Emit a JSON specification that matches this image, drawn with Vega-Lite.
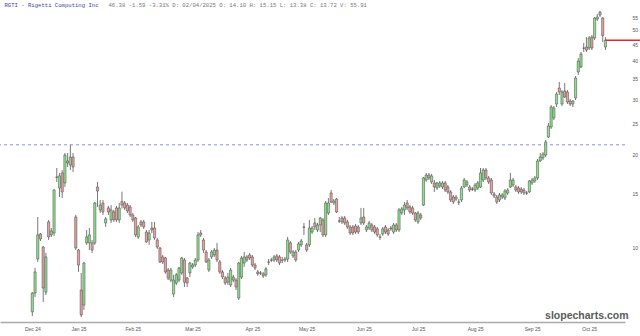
{
"$schema": "https://vega.github.io/schema/vega-lite/v6.json",
"width": 625,
"height": 314,
"autosize": {"type": "none"},
"padding": {"left": 0, "top": 8, "right": 15, "bottom": 14},
"background": "white",
"config": {"view": {"stroke": null}},
"resolve": {"axis": {"x": "independent"}},
"datasets": {
"levels": [{"name": "Dec high", "price": 21.42}],
"candles": [
{"t":0,"date":"2024-12-13","o":6.24,"h":7.22,"l":6.05,"c":7.17},
{"t":1,"date":"2024-12-16","o":7.17,"h":8.63,"l":6.96,"c":8.38},
{"t":2,"date":"2024-12-17","o":9.22,"h":12.57,"l":9.02,"c":11.01},
{"t":3,"date":"2024-12-18","o":11.09,"h":11.17,"l":10.53,"c":10.69},
{"t":4,"date":"2024-12-19","o":10.07,"h":10.15,"l":6.71,"c":7.44},
{"t":5,"date":"2024-12-20","o":7.22,"h":9.64,"l":7.06,"c":9.36},
{"t":6,"date":"2024-12-23","o":12.12,"h":12.30,"l":10.61,"c":10.85},
{"t":7,"date":"2024-12-24","o":11.01,"h":11.59,"l":10.85,"c":11.34},
{"t":8,"date":"2024-12-26","o":11.17,"h":15.45,"l":10.93,"c":15.34},
{"t":9,"date":"2024-12-27","o":16.89,"h":18.05,"l":16.28,"c":16.85},
{"t":10,"date":"2024-12-30","o":15.57,"h":17.40,"l":14.57,"c":17.02},
{"t":11,"date":"2024-12-31","o":17.40,"h":17.78,"l":14.46,"c":15.12},
{"t":12,"date":"2025-01-02","o":16.16,"h":20.16,"l":15.69,"c":19.86},
{"t":13,"date":"2025-01-03","o":19.01,"h":20.16,"l":18.18,"c":18.73},
{"t":14,"date":"2025-01-06","o":18.45,"h":21.42,"l":17.78,"c":19.57},
{"t":15,"date":"2025-01-07","o":19.57,"h":20.16,"l":17.53,"c":18.18},
{"t":16,"date":"2025-01-08","o":12.57,"h":12.76,"l":9.85,"c":10.00},
{"t":17,"date":"2025-01-10","o":9.85,"h":9.93,"l":8.38,"c":8.82},
{"t":18,"date":"2025-01-13","o":7.33,"h":8.32,"l":6.00,"c":6.10},
{"t":19,"date":"2025-01-14","o":6.56,"h":9.02,"l":6.33,"c":8.95},
{"t":20,"date":"2025-01-15","o":10.38,"h":11.42,"l":10.23,"c":10.85},
{"t":21,"date":"2025-01-16","o":10.38,"h":11.59,"l":9.85,"c":11.01},
{"t":22,"date":"2025-01-17","o":10.38,"h":10.61,"l":9.64,"c":9.85},
{"t":23,"date":"2025-01-21","o":10.38,"h":14.04,"l":10.23,"c":13.94},
{"t":24,"date":"2025-01-22","o":15.69,"h":16.28,"l":13.54,"c":15.23},
{"t":25,"date":"2025-01-23","o":13.24,"h":14.25,"l":12.95,"c":13.73},
{"t":26,"date":"2025-01-24","o":13.94,"h":14.25,"l":12.76,"c":13.05},
{"t":27,"date":"2025-01-27","o":12.03,"h":12.57,"l":11.68,"c":12.39},
{"t":28,"date":"2025-01-28","o":13.44,"h":13.64,"l":12.76,"c":13.05},
{"t":29,"date":"2025-01-29","o":12.30,"h":13.73,"l":12.03,"c":13.24},
{"t":30,"date":"2025-01-30","o":13.05,"h":13.24,"l":12.12,"c":12.30},
{"t":31,"date":"2025-01-31","o":13.44,"h":13.64,"l":12.12,"c":12.30},
{"t":32,"date":"2025-02-03","o":12.30,"h":13.94,"l":12.03,"c":13.44},
{"t":33,"date":"2025-02-04","o":14.10,"h":15.15,"l":13.38,"c":13.72},
{"t":34,"date":"2025-02-05","o":13.94,"h":14.14,"l":13.24,"c":13.44},
{"t":35,"date":"2025-02-06","o":13.73,"h":13.94,"l":12.95,"c":13.15},
{"t":36,"date":"2025-02-07","o":13.54,"h":13.73,"l":12.57,"c":12.76},
{"t":37,"date":"2025-02-10","o":12.76,"h":12.95,"l":12.12,"c":12.30},
{"t":38,"date":"2025-02-11","o":12.48,"h":12.57,"l":10.85,"c":11.01},
{"t":39,"date":"2025-02-12","o":10.85,"h":11.85,"l":10.69,"c":11.68},
{"t":40,"date":"2025-02-13","o":12.12,"h":12.30,"l":11.68,"c":11.85},
{"t":41,"date":"2025-02-14","o":12.12,"h":12.30,"l":11.51,"c":11.68},
{"t":42,"date":"2025-02-18","o":11.25,"h":11.42,"l":10.38,"c":10.46},
{"t":43,"date":"2025-02-19","o":10.61,"h":11.42,"l":10.23,"c":11.17},
{"t":44,"date":"2025-02-20","o":11.59,"h":12.12,"l":11.17,"c":11.42},
{"t":45,"date":"2025-02-21","o":11.59,"h":12.12,"l":10.61,"c":10.77},
{"t":46,"date":"2025-02-24","o":10.61,"h":10.77,"l":9.93,"c":10.07},
{"t":47,"date":"2025-02-25","o":10.00,"h":10.07,"l":8.95,"c":9.02},
{"t":48,"date":"2025-02-26","o":9.36,"h":9.50,"l":8.88,"c":9.02},
{"t":49,"date":"2025-02-27","o":9.29,"h":9.36,"l":8.26,"c":8.38},
{"t":50,"date":"2025-02-28","o":8.50,"h":8.63,"l":7.89,"c":8.01},
{"t":51,"date":"2025-03-03","o":7.89,"h":8.63,"l":7.77,"c":8.50},
{"t":52,"date":"2025-03-04","o":7.12,"h":8.20,"l":6.96,"c":7.89},
{"t":53,"date":"2025-03-05","o":7.72,"h":8.32,"l":7.61,"c":8.20},
{"t":54,"date":"2025-03-06","o":7.89,"h":8.69,"l":7.77,"c":8.63},
{"t":55,"date":"2025-03-07","o":8.32,"h":9.36,"l":8.20,"c":9.29},
{"t":56,"date":"2025-03-10","o":9.15,"h":9.29,"l":7.50,"c":7.77},
{"t":57,"date":"2025-03-11","o":8.01,"h":8.07,"l":7.50,"c":7.72},
{"t":58,"date":"2025-03-12","o":8.32,"h":9.02,"l":8.07,"c":8.95},
{"t":59,"date":"2025-03-13","o":8.69,"h":8.95,"l":8.57,"c":8.82},
{"t":60,"date":"2025-03-14","o":8.82,"h":9.29,"l":8.69,"c":9.15},
{"t":61,"date":"2025-03-17","o":9.15,"h":11.25,"l":9.02,"c":11.01},
{"t":62,"date":"2025-03-18","o":11.17,"h":11.42,"l":10.85,"c":11.01},
{"t":63,"date":"2025-03-19","o":10.61,"h":10.77,"l":9.64,"c":9.85},
{"t":64,"date":"2025-03-20","o":9.71,"h":9.85,"l":8.95,"c":9.02},
{"t":65,"date":"2025-03-21","o":8.50,"h":9.29,"l":8.38,"c":9.15},
{"t":66,"date":"2025-03-24","o":9.36,"h":9.85,"l":9.22,"c":9.71},
{"t":67,"date":"2025-03-25","o":9.50,"h":10.00,"l":9.36,"c":9.85},
{"t":68,"date":"2025-03-26","o":9.85,"h":10.38,"l":9.02,"c":9.15},
{"t":69,"date":"2025-03-27","o":9.02,"h":9.15,"l":8.26,"c":8.38},
{"t":70,"date":"2025-03-28","o":8.38,"h":8.50,"l":7.95,"c":8.07},
{"t":71,"date":"2025-03-31","o":8.01,"h":8.14,"l":7.61,"c":7.72},
{"t":72,"date":"2025-04-01","o":7.77,"h":8.32,"l":7.61,"c":8.07},
{"t":73,"date":"2025-04-02","o":7.61,"h":8.63,"l":7.50,"c":8.50},
{"t":74,"date":"2025-04-03","o":8.07,"h":8.20,"l":7.77,"c":7.89},
{"t":75,"date":"2025-04-04","o":7.89,"h":8.01,"l":7.33,"c":7.50},
{"t":76,"date":"2025-04-07","o":6.91,"h":9.02,"l":6.81,"c":8.95},
{"t":77,"date":"2025-04-08","o":8.07,"h":9.43,"l":7.95,"c":9.29},
{"t":78,"date":"2025-04-09","o":8.95,"h":9.71,"l":8.69,"c":9.36},
{"t":79,"date":"2025-04-10","o":9.36,"h":9.50,"l":9.02,"c":9.15},
{"t":80,"date":"2025-04-11","o":9.50,"h":9.64,"l":9.15,"c":9.29},
{"t":81,"date":"2025-04-14","o":9.36,"h":9.50,"l":8.69,"c":8.82},
{"t":82,"date":"2025-04-15","o":8.82,"h":8.95,"l":8.50,"c":8.63},
{"t":83,"date":"2025-04-16","o":8.38,"h":8.50,"l":8.14,"c":8.26},
{"t":84,"date":"2025-04-17","o":8.32,"h":8.44,"l":8.20,"c":8.30},
{"t":85,"date":"2025-04-21","o":8.26,"h":8.38,"l":8.01,"c":8.14},
{"t":86,"date":"2025-04-22","o":8.20,"h":8.69,"l":8.07,"c":8.57},
{"t":87,"date":"2025-04-23","o":9.02,"h":9.22,"l":8.82,"c":9.00},
{"t":88,"date":"2025-04-24","o":9.15,"h":9.29,"l":9.02,"c":9.13},
{"t":89,"date":"2025-04-25","o":9.15,"h":9.50,"l":9.02,"c":9.36},
{"t":90,"date":"2025-04-28","o":9.43,"h":9.57,"l":9.02,"c":9.15},
{"t":91,"date":"2025-04-29","o":9.36,"h":9.50,"l":8.82,"c":8.95},
{"t":92,"date":"2025-04-30","o":9.15,"h":9.36,"l":8.95,"c":9.13},
{"t":93,"date":"2025-05-01","o":9.22,"h":9.36,"l":9.02,"c":9.15},
{"t":94,"date":"2025-05-02","o":9.22,"h":10.85,"l":9.02,"c":10.61},
{"t":95,"date":"2025-05-05","o":10.38,"h":10.53,"l":9.57,"c":9.71},
{"t":96,"date":"2025-05-06","o":9.43,"h":9.85,"l":9.29,"c":9.71},
{"t":97,"date":"2025-05-07","o":9.71,"h":9.85,"l":9.02,"c":9.15},
{"t":98,"date":"2025-05-08","o":9.85,"h":10.46,"l":9.71,"c":10.30},
{"t":99,"date":"2025-05-09","o":10.23,"h":10.69,"l":10.07,"c":10.53},
{"t":100,"date":"2025-05-12","o":11.68,"h":12.03,"l":11.01,"c":11.65},
{"t":101,"date":"2025-05-13","o":10.23,"h":10.38,"l":9.71,"c":9.85},
{"t":102,"date":"2025-05-14","o":10.23,"h":12.30,"l":10.07,"c":11.59},
{"t":103,"date":"2025-05-15","o":11.25,"h":11.76,"l":11.09,"c":11.59},
{"t":104,"date":"2025-05-16","o":12.03,"h":12.48,"l":11.42,"c":11.68},
{"t":105,"date":"2025-05-19","o":11.42,"h":12.03,"l":11.25,"c":11.85},
{"t":106,"date":"2025-05-20","o":11.85,"h":12.57,"l":11.25,"c":12.48},
{"t":107,"date":"2025-05-21","o":12.30,"h":12.48,"l":10.85,"c":11.01},
{"t":108,"date":"2025-05-22","o":11.01,"h":14.14,"l":10.85,"c":13.94},
{"t":109,"date":"2025-05-23","o":12.95,"h":14.46,"l":12.76,"c":13.94},
{"t":110,"date":"2025-05-27","o":15.01,"h":15.34,"l":13.94,"c":14.04},
{"t":111,"date":"2025-05-28","o":13.94,"h":14.35,"l":13.73,"c":14.14},
{"t":112,"date":"2025-05-29","o":14.35,"h":14.46,"l":12.95,"c":13.05},
{"t":113,"date":"2025-05-30","o":12.21,"h":12.57,"l":12.03,"c":12.19},
{"t":114,"date":"2025-06-02","o":12.48,"h":12.67,"l":11.94,"c":12.12},
{"t":115,"date":"2025-06-03","o":12.48,"h":12.67,"l":11.85,"c":12.03},
{"t":116,"date":"2025-06-04","o":12.12,"h":12.30,"l":11.51,"c":11.68},
{"t":117,"date":"2025-06-05","o":11.68,"h":11.85,"l":11.01,"c":11.17},
{"t":118,"date":"2025-06-06","o":11.68,"h":11.85,"l":11.01,"c":11.17},
{"t":119,"date":"2025-06-09","o":11.76,"h":11.94,"l":11.09,"c":11.25},
{"t":120,"date":"2025-06-10","o":11.68,"h":11.85,"l":11.09,"c":11.25},
{"t":121,"date":"2025-06-11","o":12.03,"h":13.44,"l":11.85,"c":12.48},
{"t":122,"date":"2025-06-12","o":12.57,"h":13.44,"l":11.85,"c":12.03},
{"t":123,"date":"2025-06-13","o":11.42,"h":11.85,"l":11.25,"c":11.68},
{"t":124,"date":"2025-06-16","o":11.59,"h":12.21,"l":11.42,"c":12.03},
{"t":125,"date":"2025-06-17","o":11.85,"h":12.03,"l":11.25,"c":11.42},
{"t":126,"date":"2025-06-18","o":11.68,"h":11.85,"l":11.09,"c":11.25},
{"t":127,"date":"2025-06-20","o":11.51,"h":11.68,"l":10.85,"c":11.01},
{"t":128,"date":"2025-06-23","o":10.85,"h":11.09,"l":10.61,"c":10.83},
{"t":129,"date":"2025-06-24","o":11.09,"h":11.68,"l":10.93,"c":11.51},
{"t":130,"date":"2025-06-25","o":11.68,"h":11.85,"l":11.09,"c":11.25},
{"t":131,"date":"2025-06-26","o":11.42,"h":11.59,"l":10.93,"c":11.09},
{"t":132,"date":"2025-06-27","o":11.59,"h":11.76,"l":11.34,"c":11.51},
{"t":133,"date":"2025-06-30","o":11.25,"h":12.03,"l":11.09,"c":11.85},
{"t":134,"date":"2025-07-01","o":11.85,"h":12.03,"l":11.25,"c":11.42},
{"t":135,"date":"2025-07-02","o":11.42,"h":13.44,"l":11.25,"c":13.24},
{"t":136,"date":"2025-07-03","o":12.95,"h":13.54,"l":12.76,"c":13.34},
{"t":137,"date":"2025-07-07","o":13.24,"h":14.04,"l":12.76,"c":13.73},
{"t":138,"date":"2025-07-08","o":13.94,"h":14.25,"l":13.24,"c":13.44},
{"t":139,"date":"2025-07-09","o":13.54,"h":13.73,"l":12.86,"c":13.05},
{"t":140,"date":"2025-07-10","o":13.44,"h":13.64,"l":12.76,"c":12.95},
{"t":141,"date":"2025-07-11","o":12.95,"h":13.05,"l":12.12,"c":12.30},
{"t":142,"date":"2025-07-14","o":12.12,"h":13.15,"l":11.94,"c":12.95},
{"t":143,"date":"2025-07-15","o":12.76,"h":12.95,"l":12.30,"c":12.48},
{"t":144,"date":"2025-07-16","o":13.73,"h":16.89,"l":13.64,"c":16.77},
{"t":145,"date":"2025-07-17","o":16.52,"h":17.40,"l":16.28,"c":17.14},
{"t":146,"date":"2025-07-18","o":17.14,"h":17.40,"l":16.52,"c":16.77},
{"t":147,"date":"2025-07-21","o":16.28,"h":17.27,"l":16.04,"c":17.02},
{"t":148,"date":"2025-07-22","o":16.16,"h":16.52,"l":15.12,"c":15.69},
{"t":149,"date":"2025-07-23","o":15.57,"h":16.28,"l":15.34,"c":16.16},
{"t":150,"date":"2025-07-24","o":15.80,"h":16.40,"l":15.57,"c":16.16},
{"t":151,"date":"2025-07-25","o":15.69,"h":16.40,"l":15.45,"c":16.16},
{"t":152,"date":"2025-07-28","o":16.16,"h":16.40,"l":15.12,"c":15.34},
{"t":153,"date":"2025-07-29","o":15.69,"h":15.92,"l":14.90,"c":15.12},
{"t":154,"date":"2025-07-30","o":15.12,"h":15.34,"l":14.04,"c":14.25},
{"t":155,"date":"2025-07-31","o":14.57,"h":14.79,"l":13.84,"c":14.04},
{"t":156,"date":"2025-08-01","o":14.35,"h":14.79,"l":14.14,"c":14.57},
{"t":157,"date":"2025-08-04","o":14.04,"h":14.35,"l":13.73,"c":14.02},
{"t":158,"date":"2025-08-05","o":14.25,"h":15.80,"l":14.04,"c":15.57},
{"t":159,"date":"2025-08-06","o":15.69,"h":16.77,"l":15.57,"c":16.52},
{"t":160,"date":"2025-08-07","o":15.92,"h":16.52,"l":15.69,"c":16.28},
{"t":161,"date":"2025-08-08","o":15.69,"h":15.92,"l":15.12,"c":15.34},
{"t":162,"date":"2025-08-11","o":15.45,"h":15.69,"l":15.23,"c":15.43},
{"t":163,"date":"2025-08-12","o":15.34,"h":16.16,"l":15.12,"c":15.92},
{"t":164,"date":"2025-08-13","o":15.57,"h":16.40,"l":15.34,"c":16.16},
{"t":165,"date":"2025-08-14","o":15.69,"h":18.05,"l":15.57,"c":17.40},
{"t":166,"date":"2025-08-15","o":16.52,"h":18.05,"l":16.28,"c":17.78},
{"t":167,"date":"2025-08-18","o":17.78,"h":18.05,"l":16.52,"c":16.77},
{"t":168,"date":"2025-08-19","o":16.77,"h":17.02,"l":16.04,"c":16.28},
{"t":169,"date":"2025-08-20","o":16.52,"h":16.77,"l":14.79,"c":15.01},
{"t":170,"date":"2025-08-21","o":14.90,"h":15.12,"l":14.46,"c":14.68},
{"t":171,"date":"2025-08-22","o":14.57,"h":14.79,"l":13.84,"c":14.04},
{"t":172,"date":"2025-08-25","o":14.25,"h":15.01,"l":14.04,"c":14.79},
{"t":173,"date":"2025-08-26","o":14.57,"h":15.01,"l":14.35,"c":14.79},
{"t":174,"date":"2025-08-27","o":14.46,"h":15.45,"l":14.25,"c":15.23},
{"t":175,"date":"2025-08-28","o":15.01,"h":15.57,"l":14.79,"c":15.34},
{"t":176,"date":"2025-08-29","o":15.69,"h":17.40,"l":15.57,"c":16.52},
{"t":177,"date":"2025-09-02","o":15.92,"h":16.77,"l":15.69,"c":16.52},
{"t":178,"date":"2025-09-03","o":15.69,"h":15.92,"l":15.12,"c":15.34},
{"t":179,"date":"2025-09-04","o":15.57,"h":15.80,"l":14.90,"c":15.12},
{"t":180,"date":"2025-09-05","o":15.45,"h":15.69,"l":14.90,"c":15.12},
{"t":181,"date":"2025-09-08","o":15.34,"h":15.57,"l":14.79,"c":15.01},
{"t":182,"date":"2025-09-09","o":15.01,"h":15.23,"l":14.79,"c":14.99},
{"t":183,"date":"2025-09-10","o":15.12,"h":16.52,"l":15.01,"c":16.40},
{"t":184,"date":"2025-09-11","o":16.16,"h":16.77,"l":15.92,"c":16.52},
{"t":185,"date":"2025-09-12","o":16.40,"h":17.02,"l":16.16,"c":16.77},
{"t":186,"date":"2025-09-15","o":16.77,"h":19.29,"l":16.52,"c":19.01},
{"t":187,"date":"2025-09-16","o":19.01,"h":20.16,"l":18.87,"c":19.57},
{"t":188,"date":"2025-09-17","o":19.43,"h":20.31,"l":19.15,"c":20.01},
{"t":189,"date":"2025-09-18","o":19.86,"h":22.19,"l":19.57,"c":21.87},
{"t":190,"date":"2025-09-19","o":22.69,"h":25.16,"l":22.52,"c":24.61},
{"t":191,"date":"2025-09-22","o":24.43,"h":28.73,"l":24.07,"c":28.31},
{"t":192,"date":"2025-09-23","o":26.10,"h":28.52,"l":25.72,"c":28.10},
{"t":193,"date":"2025-09-24","o":28.94,"h":31.63,"l":28.31,"c":31.16},
{"t":194,"date":"2025-09-25","o":32.57,"h":34.05,"l":30.93,"c":31.63},
{"t":195,"date":"2025-09-26","o":28.94,"h":32.09,"l":28.52,"c":31.63},
{"t":196,"date":"2025-09-29","o":31.86,"h":33.80,"l":30.26,"c":30.48},
{"t":197,"date":"2025-09-30","o":31.63,"h":32.09,"l":28.94,"c":29.38},
{"t":198,"date":"2025-10-01","o":29.59,"h":30.04,"l":28.52,"c":28.94},
{"t":199,"date":"2025-10-02","o":28.94,"h":29.81,"l":28.31,"c":29.59},
{"t":200,"date":"2025-10-03","o":30.26,"h":35.59,"l":29.81,"c":35.07},
{"t":201,"date":"2025-10-06","o":36.66,"h":40.64,"l":35.85,"c":39.75},
{"t":202,"date":"2025-10-07","o":38.04,"h":42.49,"l":37.76,"c":41.86},
{"t":203,"date":"2025-10-08","o":43.76,"h":45.40,"l":42.49,"c":43.70},
{"t":204,"date":"2025-10-09","o":44.08,"h":47.46,"l":42.49,"c":43.11},
{"t":205,"date":"2025-10-10","o":43.76,"h":47.81,"l":43.11,"c":47.11},
{"t":206,"date":"2025-10-13","o":47.46,"h":48.16,"l":43.11,"c":43.76},
{"t":207,"date":"2025-10-14","o":47.11,"h":55.00,"l":46.41,"c":54.60},
{"t":208,"date":"2025-10-15","o":54.20,"h":56.23,"l":53.41,"c":55.00},
{"t":209,"date":"2025-10-16","o":57.07,"h":57.49,"l":55.00,"c":55.82},
{"t":210,"date":"2025-10-17","o":54.60,"h":55.00,"l":45.74,"c":47.97},
{"t":211,"date":"2025-10-20","o":44.08,"h":47.46,"l":43.11,"c":46.38}
]
},
"data": {"name": "candles"},
"layer": [
{
  "data": {"name": "levels"},
  "mark": {"type": "rule", "color": "#8f8fe0", "strokeDash": [3, 3], "strokeWidth": 1},
  "encoding": {"y": {"field": "price", "type": "quantitative"}}
},
{
  "mark": {"type": "rule", "color": "#555555", "strokeWidth": 0.8},
  "encoding": {
    "x": {
      "field": "t", "type": "quantitative",
      "scale": {"domain": [-11.9, 218.2], "nice": false, "zero": false, "padding": 0},
      "axis": {
        "orient": "bottom",
        "values": [0, 17, 37, 59, 81, 101, 122, 142, 163, 184, 205],
        "labelExpr": "['Dec 24','Jan 25','Feb 25','Mar 25','Apr 25','May 25','Jun 25','Jul 25','Aug 25','Sep 25','Oct 25'][indexof([0,17,37,59,81,101,122,142,163,184,205], datum.value)]",
        "labelFlush": false,
        "labelOverlap": false,
        "labelFont": "Liberation Sans",
        "labelFontSize": 5,
        "labelColor": "#555555",
        "labelPadding": 4,
        "ticks": false,
        "grid": false,
        "domainColor": "#aaaaaa",
        "domainWidth": 1.5,
        "title": "slopecharts.com",
        "titleAnchor": "end",
        "titleAlign": "right",
        "titleX": 628,
        "titleY": -4,
        "titleBaseline": "alphabetic",
        "titleFont": "Liberation Sans",
        "titleFontSize": 10.5,
        "titleFontWeight": "bold",
        "titleColor": "#5a5a5a"
      }
    },
    "y": {
      "field": "l", "type": "quantitative",
      "scale": {"type": "log", "domain": [5.79, 58.8], "nice": false},
      "axis": {
        "orient": "right",
        "values": [10, 15, 20, 25, 30, 35, 40, 45, 50, 55],
        "format": "d",
        "ticks": false,
        "domain": false,
        "grid": false,
        "labelFont": "Liberation Sans",
        "labelFontSize": 5,
        "labelColor": "#555555",
        "labelPadding": 7,
        "title": null
      }
    },
    "y2": {"field": "h"}
  }
},
{
  "mark": {"type": "bar", "size": 2.2, "stroke": "#444444", "strokeWidth": 0.5},
  "encoding": {
    "x": {
      "field": "t", "type": "quantitative",
      "axis": {
        "orient": "top",
        "domain": false,
        "ticks": false,
        "labels": false,
        "grid": false,
        "title": "RGTI - Rigetti Computing Inc",
        "titleAnchor": "start",
        "titleAlign": "left",
        "titleX": 4,
        "titleY": -1.5,
        "titleBaseline": "alphabetic",
        "titleFont": "Liberation Mono",
        "titleFontSize": 5.6,
        "titleFontWeight": "normal",
        "titleColor": "#3b3bb0"
      }
    },
    "y": {"field": "o", "type": "quantitative"},
    "y2": {"field": "c"},
    "color": {"condition": {"test": "datum.c >= datum.o", "value": "#8ee08e"}, "value": "#e9a0a0"}
  }
},
{
  "transform": [{"filter": "datum.t == 211"}],
  "mark": {"type": "rule", "color": "#e02a2a", "strokeWidth": 1.5},
  "encoding": {
    "x": {
      "field": "t", "type": "quantitative",
      "axis": {
        "orient": "top",
        "domain": false,
        "ticks": false,
        "labels": false,
        "grid": false,
        "title": "46.38 -1.59 -3.31% D: 02/04/2025 O: 14.10 H: 15.15 L: 13.38 C: 13.72 V: 55.91",
        "titleAnchor": "start",
        "titleAlign": "left",
        "titleX": 108,
        "titleY": -1.5,
        "titleBaseline": "alphabetic",
        "titleFont": "Liberation Mono",
        "titleFontSize": 5.6,
        "titleFontWeight": "normal",
        "titleColor": "#777777"
      }
    },
    "x2": {"datum": 223.7},
    "y": {"field": "c", "type": "quantitative"}
  }
}
]
}
